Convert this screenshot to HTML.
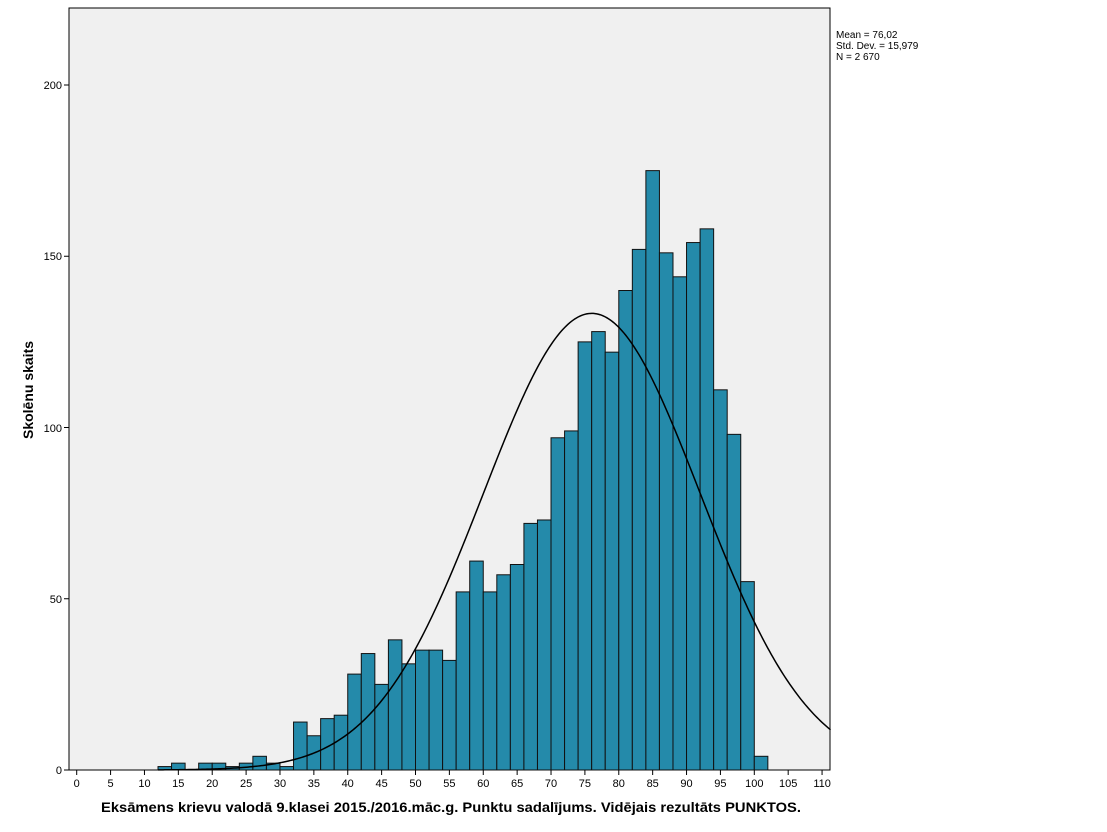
<!DOCTYPE html>
<html><head><meta charset="utf-8"><style>
body{margin:0;background:#fff;}
svg{display:block;font-family:"Liberation Sans",Arial,sans-serif;}
</style></head><body>
<svg id="s" width="1107" height="832" xmlns="http://www.w3.org/2000/svg">
<rect x="69" y="8" width="761" height="762" fill="#f0f0f0" stroke="#000" stroke-width="1"/>
<g id="bars"></g>
<path id="curve" fill="none" stroke="#000" stroke-width="1.5"/>
<g id="ticks" font-size="11" fill="#000"></g>
<text x="836" y="38" font-size="10">Mean = 76,02</text>
<text x="836" y="49" font-size="10">Std. Dev. = 15,979</text>
<text x="836" y="60" font-size="10">N = 2 670</text>
<text x="101" y="812" font-size="14" font-weight="bold" textLength="700" lengthAdjust="spacingAndGlyphs">Eksāmens krievu valodā 9.klasei 2015./2016.māc.g. Punktu sadalījums. Vidējais rezultāts PUNKTOS.</text>
<text transform="translate(33,390) rotate(-90)" font-size="14" font-weight="bold" text-anchor="middle">Skolēnu skaits</text>
<text x="62" y="774" font-size="11" text-anchor="end">0</text>
<text x="62" y="603" font-size="11" text-anchor="end">50</text>
<text x="62" y="432" font-size="11" text-anchor="end">100</text>
<text x="62" y="260" font-size="11" text-anchor="end">150</text>
<text x="62" y="89" font-size="11" text-anchor="end">200</text>
<text x="76.7" y="787" font-size="11" text-anchor="middle">0</text>
<text x="110.6" y="787" font-size="11" text-anchor="middle">5</text>
<text x="144.5" y="787" font-size="11" text-anchor="middle">10</text>
<text x="178.3" y="787" font-size="11" text-anchor="middle">15</text>
<text x="212.2" y="787" font-size="11" text-anchor="middle">20</text>
<text x="246.1" y="787" font-size="11" text-anchor="middle">25</text>
<text x="280" y="787" font-size="11" text-anchor="middle">30</text>
<text x="313.9" y="787" font-size="11" text-anchor="middle">35</text>
<text x="347.7" y="787" font-size="11" text-anchor="middle">40</text>
<text x="381.6" y="787" font-size="11" text-anchor="middle">45</text>
<text x="415.5" y="787" font-size="11" text-anchor="middle">50</text>
<text x="449.4" y="787" font-size="11" text-anchor="middle">55</text>
<text x="483.3" y="787" font-size="11" text-anchor="middle">60</text>
<text x="517.1" y="787" font-size="11" text-anchor="middle">65</text>
<text x="551" y="787" font-size="11" text-anchor="middle">70</text>
<text x="584.9" y="787" font-size="11" text-anchor="middle">75</text>
<text x="618.8" y="787" font-size="11" text-anchor="middle">80</text>
<text x="652.7" y="787" font-size="11" text-anchor="middle">85</text>
<text x="686.5" y="787" font-size="11" text-anchor="middle">90</text>
<text x="720.4" y="787" font-size="11" text-anchor="middle">95</text>
<text x="754.3" y="787" font-size="11" text-anchor="middle">100</text>
<text x="788.2" y="787" font-size="11" text-anchor="middle">105</text>
<text x="822.1" y="787" font-size="11" text-anchor="middle">110</text>
</svg>
<script>
var NS="http://www.w3.org/2000/svg";
function X(v){return 76.7+v*6.776;}
function Y(h){return 770-h*3.425;}
var h=[1,2,0,2,2,1,2,4,2,1,14,10,15,16,28,34,25,38,31,35,35,32,52,61,52,57,60,72,73,97,99,125,128,122,140,152,175,151,144,154,158,111,98,55,4];
var g=document.getElementById("bars");
for(var i=0;i<h.length;i++){if(!h[i])continue;var r=document.createElementNS(NS,"rect");var x0=X(12+2*i);
r.setAttribute("x",x0);r.setAttribute("y",Y(h[i]));r.setAttribute("width",X(14+2*i)-x0);r.setAttribute("height",h[i]*3.425);
r.setAttribute("fill","#248aaa");r.setAttribute("stroke","#111");r.setAttribute("stroke-width","1");g.appendChild(r);}
var d="";for(var v=12;v<=111.4;v+=0.25){var c=2670*2/(15.979*Math.sqrt(2*Math.PI))*Math.exp(-Math.pow(v-76.02,2)/(2*15.979*15.979));d+=(d?"L":"M")+X(v).toFixed(2)+","+Y(c).toFixed(2);}
document.getElementById("curve").setAttribute("d",d);
var t=document.getElementById("ticks");
function ln(x1,y1,x2,y2){var l=document.createElementNS(NS,"line");l.setAttribute("x1",x1);l.setAttribute("y1",y1);l.setAttribute("x2",x2);l.setAttribute("y2",y2);l.setAttribute("stroke","#000");t.appendChild(l);}
for(var v=0;v<=110;v+=5)ln(X(v),770,X(v),775);
for(var k=0;k<=200;k+=50)ln(64,Y(k),69,Y(k));
</script>
</body></html>
